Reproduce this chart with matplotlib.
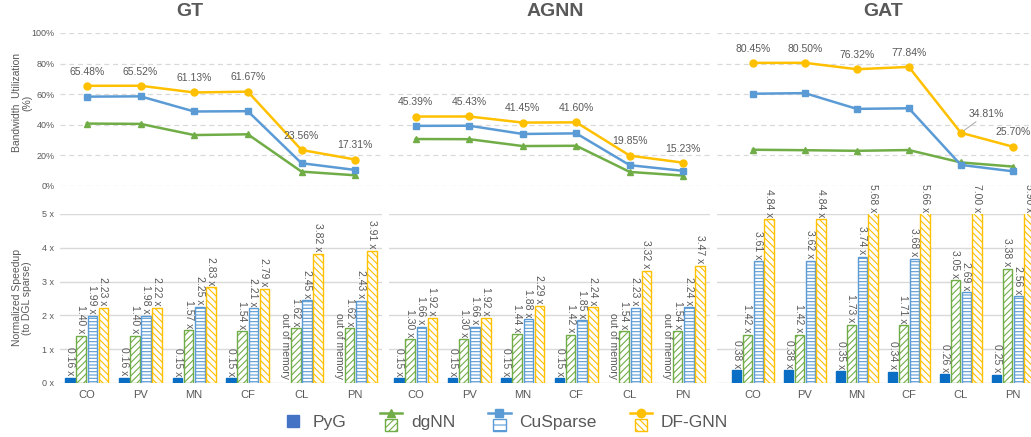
import numpy as np
import matplotlib
matplotlib.use("Agg")
import matplotlib.pyplot as plt
from matplotlib.legend_handler import HandlerBase
from matplotlib.lines import Line2D
from matplotlib.patches import Rectangle

datasets = ["CO", "PV", "MN", "CF", "CL", "PN"]
titles = ["GT", "AGNN", "GAT"]

# bandwidth utilization (%), top row
gt_bw_dgnn = [40.8, 40.6, 33.3, 33.8, 9.4, 7.0]
gt_bw_cusparse = [58.4, 58.6, 48.7, 48.9, 14.9, 10.5]
gt_bw_dfgnn = [65.48, 65.52, 61.13, 61.67, 23.56, 17.31]

agnn_bw_dgnn = [30.7, 30.6, 26.1, 26.3, 9.2, 6.8]
agnn_bw_cusparse = [39.3, 39.4, 34.0, 34.4, 13.6, 9.9]
agnn_bw_dfgnn = [45.39, 45.43, 41.45, 41.60, 19.85, 15.23]

gat_bw_dgnn = [23.7, 23.4, 23.0, 23.5, 15.4, 12.7]
gat_bw_cusparse = [60.3, 60.7, 50.4, 50.8, 13.8, 9.6]
gat_bw_dfgnn = [80.45, 80.50, 76.32, 77.84, 34.81, 25.70]

# normalized speedup (to DGL sparse), bottom row; nan = out of memory
gt_sp_pyg = [0.16, 0.16, 0.15, 0.15, np.nan, np.nan]
gt_sp_dgnn = [1.40, 1.40, 1.57, 1.54, 1.62, 1.62]
gt_sp_cusparse = [1.99, 1.98, 2.25, 2.21, 2.45, 2.43]
gt_sp_dfgnn = [2.23, 2.22, 2.83, 2.79, 3.82, 3.91]

agnn_sp_pyg = [0.15, 0.15, 0.15, 0.15, np.nan, np.nan]
agnn_sp_dgnn = [1.30, 1.30, 1.44, 1.42, 1.54, 1.54]
agnn_sp_cusparse = [1.66, 1.66, 1.88, 1.85, 2.23, 2.24]
agnn_sp_dfgnn = [1.92, 1.92, 2.29, 2.24, 3.32, 3.47]

gat_sp_pyg = [0.38, 0.38, 0.35, 0.34, 0.26, 0.25]
gat_sp_dgnn = [1.42, 1.42, 1.73, 1.71, 3.05, 3.38]
gat_sp_cusparse = [3.61, 3.62, 3.74, 3.68, 2.69, 2.56]
gat_sp_dfgnn = [4.84, 4.84, 5.68, 5.66, 7.00, 5.90]

bw_data = [
    (gt_bw_dgnn, gt_bw_cusparse, gt_bw_dfgnn),
    (agnn_bw_dgnn, agnn_bw_cusparse, agnn_bw_dfgnn),
    (gat_bw_dgnn, gat_bw_cusparse, gat_bw_dfgnn),
]
sp_data = [
    (gt_sp_pyg, gt_sp_dgnn, gt_sp_cusparse, gt_sp_dfgnn),
    (agnn_sp_pyg, agnn_sp_dgnn, agnn_sp_cusparse, agnn_sp_dfgnn),
    (gat_sp_pyg, gat_sp_dgnn, gat_sp_cusparse, gat_sp_dfgnn),
]

BLUE_DARK = "#0A6EC4"
GREEN = "#70AD47"
BLUE = "#5B9BD5"
GOLD = "#FFC000"
GRAY = "#595959"
GRID = "#D9D9D9"

plt.rcParams["font.family"] = ["Liberation Sans", "DejaVu Sans"]
plt.rcParams["hatch.linewidth"] = 0.8

fig = plt.figure(figsize=(10.31, 4.37), dpi=100)
W, H = 1031.0, 437.0

# panel placement in pixels: (left, right, xlim)
panels = [
    (60, 382, (-0.5, 5.5)),
    (389, 710, (-0.5, 5.5)),
    (717, 1031, (-0.69, 5.35)),
]
title_x = [190, 555, 883]

x = np.arange(len(datasets))
offsets = [-0.31, -0.105, 0.105, 0.31]
bw = 0.18
bar_styles = [
    dict(color=BLUE_DARK, edgecolor=BLUE_DARK, hatch=None),
    dict(color="white", edgecolor=GREEN, hatch="/////"),
    dict(color="white", edgecolor=BLUE, hatch="-----"),
    dict(color="white", edgecolor=GOLD, hatch="\\\\\\\\\\"),
]

for i, (l, r, xl) in enumerate(panels):
    # top: bandwidth utilization
    axt = fig.add_axes([l / W, 1 - 186 / H, (r - l) / W, 153 / H])
    dgnn, cus, dfg = bw_data[i]
    axt.plot(x, dgnn, color=GREEN, marker="^", ms=5, lw=1.8, clip_on=False)
    axt.plot(x, cus, color=BLUE, marker="s", ms=5, lw=1.8, clip_on=False)
    axt.plot(x, dfg, color=GOLD, marker="o", ms=5, lw=1.8, clip_on=False)
    for xi, v in zip(x, dfg):
        if i == 2 and xi == 4:
            axt.annotate(f"{v:.2f}%", (xi, v), xytext=(xi + 0.5, v + 9),
                         ha="center", va="bottom", fontsize=7.5, color=GRAY,
                         arrowprops=dict(arrowstyle="-", color="#A6A6A6", lw=0.7,
                                         shrinkA=0, shrinkB=3))
        else:
            axt.text(xi, v + 6, f"{v:.2f}%", ha="center", va="bottom",
                     fontsize=7.5, color=GRAY)
    axt.set_xlim(*xl)
    axt.set_ylim(0, 100)
    axt.set_yticks(range(0, 101, 20))
    axt.set_xticks([])
    axt.yaxis.grid(True, color=GRID, ls=(0, (4, 3)), lw=0.9)
    axt.set_axisbelow(True)
    for s in axt.spines.values():
        s.set_visible(False)
    axt.tick_params(axis="y", length=0, labelsize=6.5, labelcolor=GRAY, pad=4)
    if i == 0:
        axt.set_yticklabels([f"{t}%" for t in range(0, 101, 20)])
    else:
        axt.set_yticklabels([])

    # bottom: normalized speedup
    axb = fig.add_axes([l / W, 1 - 383 / H, (r - l) / W, 169 / H])
    for k, series in enumerate(sp_data[i]):
        st = bar_styles[k]
        for xi, v in zip(x, series):
            xp = xi + offsets[k]
            if np.isnan(v):
                axb.text(xp, 0.12, "out of memory", rotation=-90, ha="center",
                         va="bottom", fontsize=7.5, color=GRAY)
                continue
            axb.bar(xp, v, width=bw, color=st["color"], edgecolor=st["edgecolor"],
                    hatch=st["hatch"], lw=1.0)
            axb.text(xp, min(v, 5) + 0.06, f"{v:.2f} x", rotation=-90, ha="center",
                     va="bottom", fontsize=7.5, color=GRAY, clip_on=False)
    axb.set_xlim(*xl)
    axb.set_ylim(0, 5)
    axb.set_xticks(x)
    axb.set_xticklabels(datasets)
    axb.set_yticks(range(6))
    axb.yaxis.grid(True, color=GRID, lw=1.0)
    axb.set_axisbelow(True)
    for s in axb.spines.values():
        s.set_visible(False)
    axb.tick_params(axis="x", length=0, labelsize=8, labelcolor=GRAY, pad=5)
    axb.tick_params(axis="y", length=0, labelsize=6.5, labelcolor=GRAY, pad=4)
    if i == 0:
        axb.set_yticklabels([f"{t} x" for t in range(6)])
    else:
        axb.set_yticklabels([])

    fig.text(title_x[i] / W, 1 - 12 / H, titles[i], ha="center", va="center",
             fontsize=14, fontweight="bold", color=GRAY)

fig.text(22 / W, 1 - 103 / H, "Bandwidth  Utilization\n(%)", rotation=90,
         ha="center", va="center", fontsize=7.5, color=GRAY, linespacing=1.1)
fig.text(22 / W, 1 - 298 / H, "Normalized Speedup\n(to DGL sparse)", rotation=90,
         ha="center", va="center", fontsize=7.5, color=GRAY, linespacing=1.1)


# legend: line marker stacked above the bar swatch, like the original
class Key:
    def __init__(self, color, marker, hatch, edge, fill):
        self.color, self.marker, self.hatch = color, marker, hatch
        self.edge, self.fill = edge, fill


class StackedHandler(HandlerBase):
    def create_artists(self, legend, h, xd, yd, width, height, fontsize, trans):
        arts = []
        cx = width / 2 - xd
        sq = 9.0
        if h.marker is None:
            arts.append(Rectangle((cx - sq / 2, height / 2 - yd - sq / 2), sq, sq,
                                  facecolor=h.fill, edgecolor=h.edge, transform=trans))
            return arts
        ly = height * 0.85 - yd
        arts.append(Line2D([-xd, width - xd], [ly, ly], color=h.color, lw=1.8,
                           transform=trans))
        arts.append(Line2D([cx], [ly], color=h.color, marker=h.marker, ms=6,
                           transform=trans))
        arts.append(Rectangle((cx - sq / 2, height * 0.05 - yd), sq, sq,
                              facecolor=h.fill, edgecolor=h.edge, hatch=h.hatch,
                              lw=1.0, transform=trans))
        return arts


keys = [
    Key(BLUE_DARK, None, None, "#4472C4", "#4472C4"),
    Key(GREEN, "^", "/////", GREEN, "white"),
    Key(BLUE, "s", "---", BLUE, "white"),
    Key(GOLD, "o", "\\\\\\\\\\", GOLD, "white"),
]
labels = ["PyG", "dgNN", "CuSparse", "DF-GNN"]
fig.legend(keys, labels, handler_map={Key: StackedHandler()}, loc="center",
           bbox_to_anchor=(505 / W, 1 - 421 / H), ncol=4, frameon=False,
           fontsize=12.5, handlelength=1.3, handleheight=1.6, columnspacing=1.9,
           handletextpad=0.5, labelcolor=GRAY)

fig.savefig("out.png", dpi=100)
